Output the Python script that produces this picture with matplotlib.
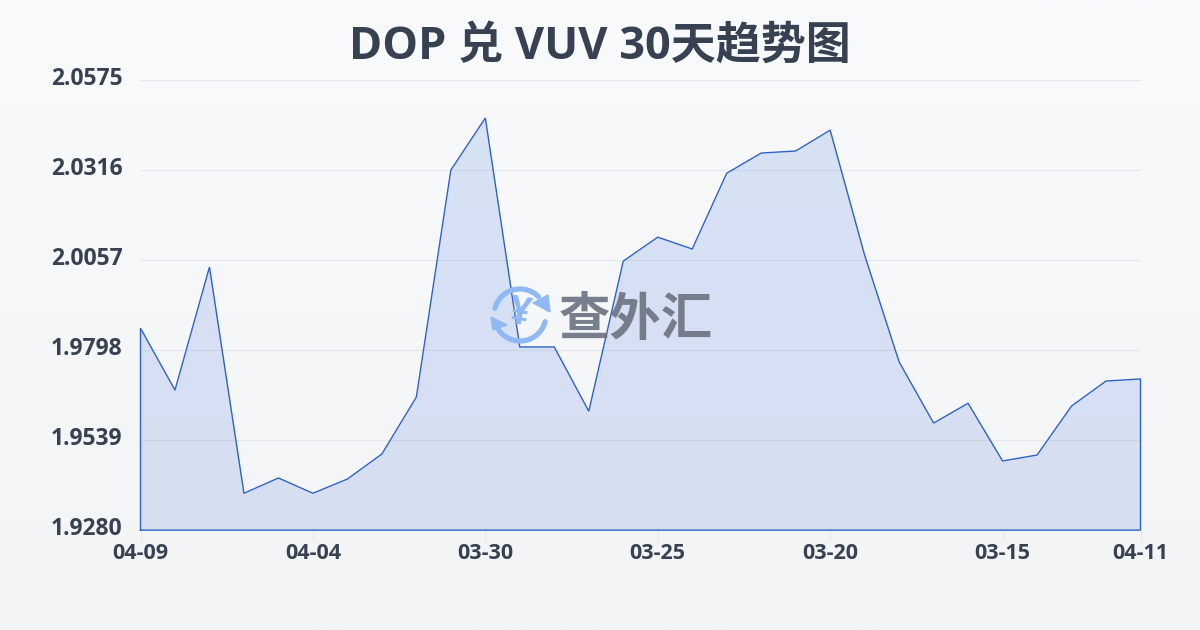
import numpy as np
import matplotlib
matplotlib.use("Agg")
import matplotlib.pyplot as plt
from matplotlib.patches import Arc, Polygon

LATIN = ['Open Sans', 'Noto Sans CJK SC', 'DejaVu Sans']
plt.rcParams['font.family'] = LATIN

title = "DOP 兑 VUV 30天趋势图"
rates = [1.9861, 1.9683, 2.0037, 1.9386, 1.9430, 1.9386, 1.9427, 1.9499, 1.9663, 2.0316,
         2.0466, 1.9807, 1.9807, 1.9622, 2.0054, 2.0123, 2.0089, 2.0307, 2.0365, 2.0371,
         2.0431, 2.0071, 1.9764, 1.9588, 1.9645, 1.9479, 1.9496, 1.9637, 1.9709, 1.9715]
y_ticks = [1.9280, 1.9539, 1.9798, 2.0057, 2.0316, 2.0575]
x_ticks = [0, 5, 10, 15, 20, 25, 29]
x_labels = ["04-09", "04-04", "03-30", "03-25", "03-20", "03-15", "04-11"]

W, H = 1200, 630
TEXT = "#374151"
LINE = "#2f62c8"
GRID = "#e5e7eb"

fig = plt.figure(figsize=(W / 100, H / 100), dpi=100)

# background gradient
bg = fig.add_axes([0, 0, 1, 1], zorder=0)
top = np.array([0xf8, 0xfa, 0xfc]) / 255
bottom = np.array([0xf3, 0xf4, 0xf6]) / 255
t = np.linspace(0, 1, 256)[:, None, None]
bg.imshow(top * (1 - t) + bottom * t, aspect="auto", extent=[0, W, H, 0])
bg.axis("off")

# plot area 140..1140 x 80..530 px
ax = fig.add_axes([140.5 / W, 1 - 530.1 / H, 1000 / W, 450 / H], zorder=1)
ax.patch.set_alpha(0)
xs = np.arange(len(rates))
ax.fill_between(xs, rates, y_ticks[0], color="#2b62d8", alpha=0.15, lw=0, zorder=2)
ax.plot(np.r_[xs[0], xs, xs[-1], xs[0]], np.r_[y_ticks[0], rates, y_ticks[0], y_ticks[0]],
        color=LINE, lw=1.0, solid_joinstyle="miter", zorder=3, clip_on=False)
ax.set_xlim(0, 29)
ax.set_ylim(y_ticks[0], y_ticks[-1])
ax.set_yticks(y_ticks[1:])
ax.set_yticklabels([])
ax.grid(axis="y", color=GRID, lw=0.8)
ax.set_axisbelow(True)
for s in ax.spines.values():
    s.set_visible(False)
ax.axhline(y_ticks[-1], color=GRID, lw=0.8, clip_on=False, zorder=1)
ax.set_xticks(x_ticks)
ax.set_xticklabels(x_labels, fontsize=15.5, fontweight="bold", color=TEXT)
ax.tick_params(axis="x", length=7, width=0.8, color=GRID, pad=2.5)
ax.tick_params(axis="y", length=0)
for v in y_ticks:
    ax.annotate(f"{v:.4f}", (0, v), xycoords=("axes fraction", "data"), xytext=(-13, 0.5),
                textcoords="offset points", ha="right", va="center", fontsize=16.5,
                fontweight="bold", color=TEXT)

fig.text(600 / W, 1 - 47.5 / H, title, ha="center", va="center", fontsize=32.4,
         fontweight="bold", color=TEXT)

# watermark, in pixel coordinates
wm = fig.add_axes([0, 0, 1, 1], zorder=2)
wm.set_xlim(0, W)
wm.set_ylim(H, 0)
wm.axis("off")
BLUE = "#8fb8f5"
cx, cy, r = 520, 315, 26
wm.add_patch(Arc((cx, cy), 2 * r, 2 * r, theta1=195, theta2=315, color=BLUE, lw=3.8, capstyle="round"))
wm.add_patch(Arc((cx, cy), 2 * r, 2 * r, theta1=15, theta2=146, color=BLUE, lw=3.8, capstyle="round"))
wm.add_patch(Polygon([[550, 312], [548, 295], [533, 303]], color=BLUE, lw=1))
wm.add_patch(Polygon([[491, 317], [507, 325], [493, 330]], color=BLUE, lw=1))
wm.text(cx, cy - 1, "¥", ha="center", va="center", fontsize=28, fontweight="bold", color=BLUE,
        rotation=-10)
wm.text(636, 319, "查外汇", ha="center", va="center", fontsize=37, fontweight="bold",
        color="#6b7280", alpha=0.9, family=['Noto Sans CJK SC'])

fig.savefig("out.png", dpi=100)
